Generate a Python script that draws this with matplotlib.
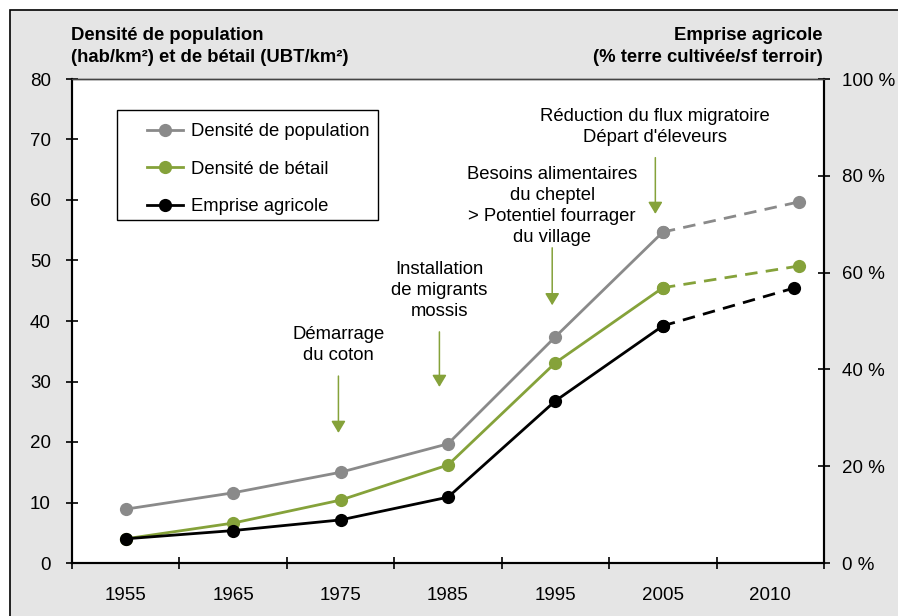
import matplotlib
matplotlib.use("Agg")
import matplotlib.pyplot as plt
from matplotlib.patches import Rectangle
from matplotlib.lines import Line2D

plt.rcParams["font.family"] = ["Liberation Sans", "DejaVu Sans"]

# categories and series
years = ["1955", "1965", "1975", "1985", "1995", "2005", "2010"]
x_dens = [0, 1, 2, 3, 4, 5, 6.27]
x_emprise = [0, 1, 2, 3, 4, 5, 6.22]
pop_density = [8.9, 11.6, 15.0, 19.7, 37.4, 54.7, 59.7]
livestock_density = [4.0, 6.6, 10.4, 16.2, 33.1, 45.5, 49.1]
emprise_pct = [5.0, 6.7, 8.9, 13.6, 33.5, 49.0, 56.8]

left_ticks = [0, 10, 20, 30, 40, 50, 60, 70, 80]
right_ticks = [0, 20, 40, 60, 80, 100]
right_labels = ["0 %", "20 %", "40 %", "60 %", "80 %", "100 %"]

events = [
    "Démarrage\ndu coton",
    "Installation\nde migrants\nmossis",
    "Besoins alimentaires\ndu cheptel\n> Potentiel fourrager\ndu village",
    "Réduction du flux migratoire\nDépart d'éleveurs",
]
event_x = [1.98, 2.92, 3.97, 4.93]
event_text_y = [32.9, 40.2, 52.4, 69.0]
arrow_top = [30.9, 38.2, 52.1, 67.0]
arrow_tip = [21.5, 29.1, 42.6, 57.7]

GRAY = "#8a8a8a"
GREEN = "#85a23a"
BLACK = "#000000"
BG = "#e5e5e5"
FS = 13.3

fig = plt.figure(figsize=(8.98, 6.16), dpi=100)
fig.patch.set_facecolor("white")
fig.add_artist(Rectangle((10 / 898, -0.1), 1.2, 1.1 - 10 / 616,
                         transform=fig.transFigure, facecolor=BG,
                         edgecolor="black", linewidth=1.2, zorder=-10))

ax = fig.add_axes([72 / 898, 53 / 616, 752 / 898, 484 / 616])
ax.set_facecolor("white")
ax2 = ax.twinx()


def draw_series(a, x, y, color):
    kw = dict(color=color, linewidth=2, marker="o", markersize=9.5,
              markeredgewidth=0)
    a.plot(x[:6], y[:6], **kw)
    a.plot(x[5:], y[5:], linestyle=(0, (4.5, 3)), **kw)


draw_series(ax, x_dens, pop_density, GRAY)
draw_series(ax, x_dens, livestock_density, GREEN)
draw_series(ax2, x_emprise, emprise_pct, BLACK)

ax.set_xlim(-0.5, 6.5)
ax.set_ylim(0, 80)
ax2.set_ylim(0, 100)

# x axis: ticks at category boundaries, labels centered
ax.set_xticks([i - 0.5 for i in range(len(years) + 1)])
ax.set_xticklabels([])
ax.set_xticks(range(len(years)), minor=True)
ax.set_xticklabels(years, minor=True, fontsize=13.5)
ax.tick_params(axis="x", which="major", direction="inout", length=8.5,
               width=1.2)
ax.tick_params(axis="x", which="minor", length=0, pad=17)

ax.set_yticks(left_ticks)
ax.set_yticklabels([str(t) for t in left_ticks], fontsize=13.5)
ax.tick_params(axis="y", direction="inout", length=8.5, width=1.2, pad=11)
ax2.set_yticks(right_ticks)
ax2.set_yticklabels(right_labels, fontsize=13.5)
ax2.tick_params(axis="y", direction="inout", length=8.5, width=1.2, pad=9)

for a in (ax, ax2):
    for side in ("left", "bottom", "right"):
        a.spines[side].set_linewidth(1.5)
        a.spines[side].set_color("black")
    a.spines["top"].set_linewidth(1.0)
    a.spines["top"].set_color("#444444")

# event annotations
for txt, x, ty, y0, y1 in zip(events, event_x, event_text_y, arrow_top, arrow_tip):
    ax.text(x, ty, txt, ha="center", va="bottom", multialignment="center",
            fontsize=FS, linespacing=1.3)
    ax.annotate("", xy=(x, y1), xytext=(x, y0),
                arrowprops=dict(arrowstyle="-|>,head_length=0.4,head_width=0.24",
                                color=GREEN, lw=1.1, mutation_scale=18,
                                shrinkA=0, shrinkB=0))

# legend
handles = [
    Line2D([], [], color=GRAY, lw=2, marker="o", markersize=9.5, markeredgewidth=0),
    Line2D([], [], color=GREEN, lw=2, marker="o", markersize=9.5, markeredgewidth=0),
    Line2D([], [], color=BLACK, lw=2, marker="o", markersize=9.5, markeredgewidth=0),
]
labels = ["Densité de population", "Densité de bétail", "Emprise agricole"]
ax2.add_patch(Rectangle((45 / 752, 343 / 484), 261 / 752, 110 / 484,
                        transform=ax2.transAxes, facecolor="white",
                        edgecolor="black", linewidth=1.0, zorder=3))
leg = ax2.legend(handles, labels, loc="upper left",
                 bbox_to_anchor=(75 / 752, 440 / 484), frameon=False,
                 fontsize=FS, borderpad=0, borderaxespad=0,
                 handlelength=1.95, handletextpad=0.45, labelspacing=1.12)
leg.set_zorder(4)

# axis headers
fig.text(71 / 898, 1 - 27 / 616,
         "Densité de population\n(hab/km²) et de bétail (UBT/km²)",
         ha="left", va="top", fontsize=FS, fontweight="bold", linespacing=1.42)
fig.text(823 / 898, 1 - 27 / 616,
         "Emprise agricole\n(% terre cultivée/sf terroir)",
         ha="right", va="top", fontsize=FS, fontweight="bold",
         multialignment="right", linespacing=1.42)

fig.savefig("out.png", dpi=100, facecolor=fig.get_facecolor())
